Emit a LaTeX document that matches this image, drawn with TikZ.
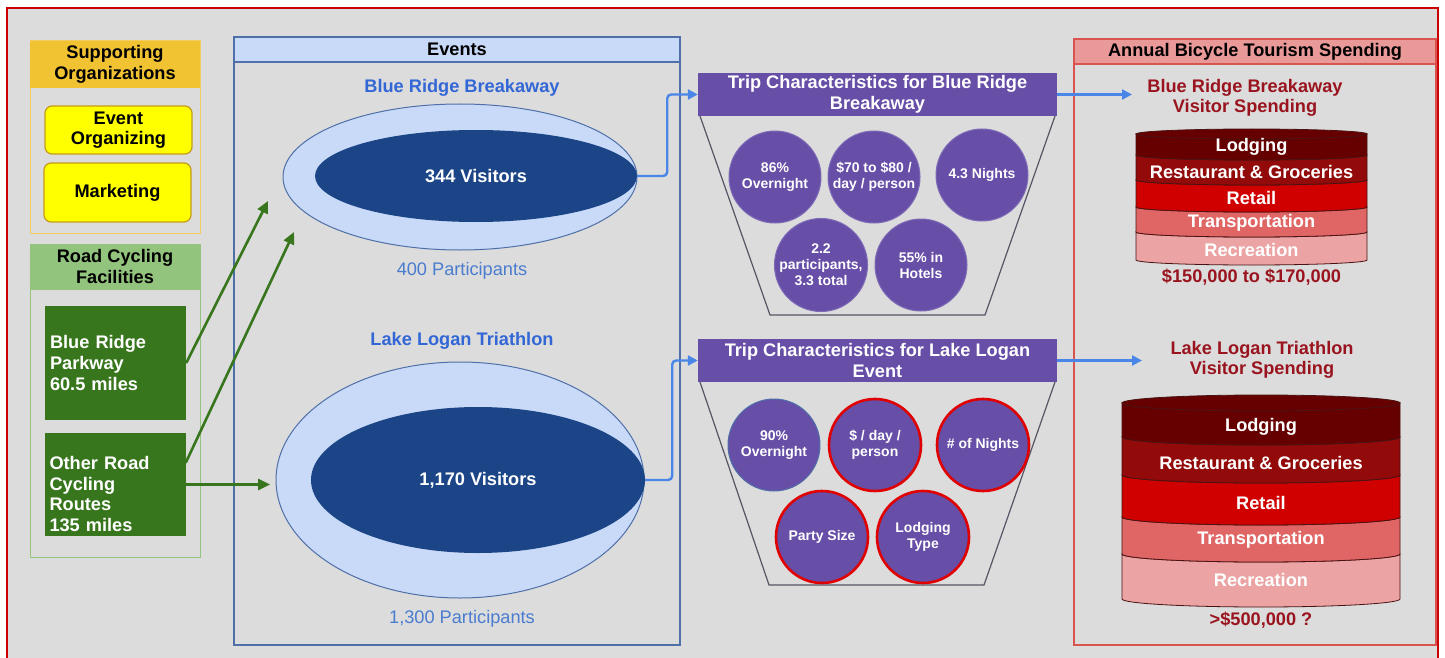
\documentclass[tikz,border=0pt]{standalone}
\usepackage{fontspec}
\setmainfont{Liberation Sans}
\usetikzlibrary{shapes.geometric,arrows.meta,calc}

\definecolor{panelgray}{HTML}{DCDCDC}
\definecolor{framered}{HTML}{CC0000}
\definecolor{orghead}{HTML}{F1C232}
\definecolor{orgline}{HTML}{F3CC60}
\definecolor{yelfill}{HTML}{FFFF00}
\definecolor{yelline}{HTML}{C49A1E}
\definecolor{rdhead}{HTML}{93C47D}
\definecolor{rdgreen}{HTML}{38761D}
\definecolor{evhead}{HTML}{C9DAF8}
\definecolor{evline}{HTML}{4F6FA8}
\definecolor{evtitle}{HTML}{3367D6}
\definecolor{evtext}{HTML}{4A7CCF}
\definecolor{navy}{HTML}{1C4587}
\definecolor{purp}{HTML}{674EA7}
\definecolor{purpline}{HTML}{7E6BB8}
\definecolor{ringred}{HTML}{E00000}
\definecolor{trapline}{HTML}{555566}
\definecolor{flowblue}{HTML}{4A86E8}
\definecolor{sphead}{HTML}{EA9999}
\definecolor{spline}{HTML}{D9534F}
\definecolor{sptitle}{HTML}{99141E}
\definecolor{bandline}{HTML}{4A1212}
\definecolor{lodg}{HTML}{660000}
\definecolor{rest}{HTML}{920A0A}
\definecolor{retl}{HTML}{D10000}
\definecolor{trans}{HTML}{E06666}
\definecolor{recr}{HTML}{EBA3A3}

% one band of a stacked cylinder: x-left, x-right, y-top, y-bottom, x radius, y radius, fill
\newcommand\cylband[7]{%
  \filldraw[fill=#7, draw=bandline, line width=0.8pt]
    (#1,#3) -- (#1,#4)
    arc[start angle=180, end angle=360, x radius=#5pt, y radius=#6pt]
    -- (#2,#3)
    arc[start angle=360, end angle=180, x radius=#5pt, y radius=#6pt] -- cycle;}

\begin{document}
\begin{tikzpicture}[x=1pt,y=-1pt,
  lbl/.style={font=\fontsize{18.2}{20.5}\selectfont\bfseries, align=center, inner sep=0pt},
  plain/.style={font=\fontsize{18.2}{20.5}\selectfont, align=center, inner sep=0pt},
  ybox/.style={lbl, rectangle, rounded corners=7pt, fill=yelfill, draw=yelline, line width=1.2pt, minimum width=147pt},
  gbox/.style={lbl, fill=rdgreen, text=white, minimum width=141pt, text width=131pt, align=left},
  circ/.style={circle, fill=purp, draw=purpline, line width=1pt, minimum size=92pt, inner sep=0pt,
    font=\fontsize{14}{16}\selectfont\bfseries, text=white, align=center},
  redc/.style={circ, draw=ringred, line width=2.6pt},
  garrow/.style={draw=rdgreen, line width=2.6pt, -{Triangle[length=12pt,width=11pt]}},
  barrow/.style={draw=flowblue, line width=2.4pt, rounded corners=4pt, -{Triangle[length=10pt,width=10pt]}},
  band/.style={lbl, text=white}]

\useasboundingbox (0,0) rectangle (1445,658);
\fill[white] (0,0) rectangle (1445,658);
\filldraw[fill=panelgray, draw=framered, line width=2.5pt] (7,8) rectangle (1438,668);

% ---- supporting organizations
\node[draw=orgline, line width=1pt, minimum width=170pt, minimum height=192pt, inner sep=0pt] (supbox) at (115,137) {};
\node[lbl, fill=orghead, minimum width=170pt, minimum height=47pt, anchor=north] (suphead) at (supbox.north) {Supporting\\Organizations};
\node[ybox, minimum height=48pt] (evorg) at (118.5,130) {Event\\Organizing};
\node[ybox, minimum height=59pt] (mkt) at (117.5,192.5) {Marketing};

% ---- road cycling facilities
\node[draw=rdhead, line width=1pt, minimum width=170pt, minimum height=313pt, inner sep=0pt] (rdbox) at (115,400.5) {};
\node[lbl, fill=rdhead, minimum width=170pt, minimum height=46pt, anchor=north] (rdhead) at (rdbox.north) {Road Cycling\\Facilities};
\node[gbox, minimum height=114pt, font=\fontsize{18.2}{21}\selectfont\bfseries] (brp) at (115.5,363) {Blue Ridge\\Parkway\\60.5 miles};
\node[gbox, minimum height=103pt] (orr) at (115,484.5) {};
\node[lbl, text=white, text width=131pt, align=left, font=\fontsize{18.2}{20.7}\selectfont\bfseries] (ortext) at (115,494) {Other Road\\Cycling\\Routes\\135 miles};

% ---- events
\node[draw=evline, line width=1.2pt, minimum width=446pt, minimum height=608pt, inner sep=0pt] (evbox) at (457,341) {};
\node[lbl, fill=evhead, draw=evline, line width=1.2pt, minimum width=446pt, minimum height=25pt, anchor=north] (evhead) at (evbox.north) {Events};

\node[lbl, text=evtitle] (brbtitle) at (462,88) {Blue Ridge Breakaway};
\node[ellipse, fill=evhead, draw=evline, line width=1pt, minimum width=354pt, minimum height=146pt, inner sep=0pt] (brbout) at (460,177) {};
\node[ellipse, fill=navy, minimum width=322pt, minimum height=92pt, inner sep=0pt, lbl, text=white] (brbin) at (476,176) {344 Visitors};
\node[plain, text=evtext] (brbpart) at (462,271) {400 Participants};

\node[lbl, text=evtitle] (lltitle) at (462,341) {Lake Logan Triathlon};
\node[ellipse, fill=evhead, draw=evline, line width=1pt, minimum width=368pt, minimum height=236pt, inner sep=0pt] (llout) at (460,480) {};
\node[ellipse, fill=navy, minimum width=334pt, minimum height=146pt, inner sep=0pt, lbl, text=white] (llin) at (478,480) {1,170 Visitors};
\node[plain, text=evtext] (llpart) at (462,619) {1,300 Participants};

% ---- green connectors from facilities to events
\coordinate (g1) at (268,201);
\coordinate (g2) at (294,232);
\coordinate (g3) at (270,484.5);
\draw[garrow] (brp.east) -- (g1);
\draw[garrow] ($(orr.north east)!0.29!(orr.south east)$) -- (g2);
\draw[garrow] (orr.east) -- (g3);

% ---- trip characteristics, Blue Ridge Breakaway
\draw[trapline, line width=1.2pt] (700,116) -- (770,315) -- (985,315) -- (1055,116);
\node[lbl, fill=purp, text=white, minimum width=359pt, minimum height=43pt] (trip1) at (877.5,94.5) {Trip Characteristics for Blue Ridge\\Breakaway};
\node[circ] (t1a) at (775,177) {86\%\\Overnight};
\node[circ] (t1b) at (874,177) {\$70 to \$80 /\\day / person};
\node[circ] (t1c) at (982,175) {4.3 Nights};
\node[circ] (t1d) at (821,265) {2.2\\participants,\\3.3 total};
\node[circ] (t1e) at (921,265) {55\% in\\Hotels};

% ---- trip characteristics, Lake Logan
\draw[trapline, line width=1.2pt] (700,382) -- (769,585) -- (984,585) -- (1055,382);
\node[lbl, fill=purp, text=white, minimum width=359pt, minimum height=43pt] (trip2) at (877.5,360.5) {Trip Characteristics for Lake Logan\\Event};
\node[circ, draw=evline] (t2a) at (774,445) {90\%\\Overnight};
\node[redc] (t2b) at (875,445) {\$ / day /\\person};
\node[redc] (t2c) at (983,445) {\# of Nights};
\node[redc] (t2d) at (822,537) {Party Size};
\node[redc] (t2e) at (923,537) {Lodging\\Type};

% ---- blue connectors from events to trip characteristics
\draw[barrow] (brbin.east) -- ++(30,0) |- (trip1.west);
\draw[barrow] (llin.east) -- ++(27,0) |- (trip2.west);

% ---- annual spending panel
\node[draw=spline, line width=1.2pt, minimum width=362pt, minimum height=606pt, inner sep=0pt] (spbox) at (1255,342) {};
\node[lbl, fill=sphead, draw=spline, line width=1.2pt, minimum width=362pt, minimum height=25pt, anchor=north] (sphead) at (spbox.north) {Annual Bicycle Tourism Spending};

\coordinate (s1) at (1132,94.5);
\coordinate (s2) at (1142,360.5);
\draw[barrow] (trip1.east) -- (s1);
\draw[barrow] (trip2.east) -- (s2);

\node[lbl, text=sptitle] (brbspend) at (1245,98) {Blue Ridge Breakaway\\Visitor Spending};
\node[lbl, text=sptitle] (llspend) at (1262,360) {Lake Logan Triathlon\\Visitor Spending};

% stacked cylinder, Blue Ridge Breakaway
\cylband{1136}{1367}{232}{260}{115.5}{5}{recr}
\cylband{1136}{1367}{207}{232}{115.5}{5}{trans}
\cylband{1136}{1367}{180}{207}{115.5}{5}{retl}
\cylband{1136}{1367}{155}{180}{115.5}{5}{rest}
\cylband{1136}{1367}{134}{155}{115.5}{5}{lodg}
\filldraw[fill=lodg, draw=bandline, line width=0.8pt] (1251.5,134) ellipse [x radius=115.5pt, y radius=5pt];
\node[band] (b1lod) at (1251.5,147) {Lodging};
\node[band] (b1res) at (1251.5,172) {Restaurant \& Groceries};
\node[band] (b1ret) at (1251.5,198) {Retail};
\node[band] (b1tra) at (1251.5,223) {Transportation};
\node[band] (b1rec) at (1251.5,250) {Recreation};
\node[lbl, text=sptitle] (b1tot) at (1251.5,277) {\$150,000 to \$170,000};

% stacked cylinder, Lake Logan Triathlon
\cylband{1122}{1400}{554}{599}{139}{8}{recr}
\cylband{1122}{1400}{517}{554}{139}{8}{trans}
\cylband{1122}{1400}{475}{517}{139}{8}{retl}
\cylband{1122}{1400}{437}{475}{139}{8}{rest}
\cylband{1122}{1400}{403}{437}{139}{8}{lodg}
\filldraw[fill=lodg, draw=bandline, line width=0.8pt] (1261,403) ellipse [x radius=139pt, y radius=8pt];
\node[band] (b2lod) at (1261,427) {Lodging};
\node[band] (b2res) at (1261,463) {Restaurant \& Groceries};
\node[band] (b2ret) at (1261,503) {Retail};
\node[band] (b2tra) at (1261,540) {Transportation};
\node[band] (b2rec) at (1261,580) {Recreation};
\node[lbl, text=sptitle] (b2tot) at (1261,620) {>\$500,000 ?};

\end{tikzpicture}
\end{document}
